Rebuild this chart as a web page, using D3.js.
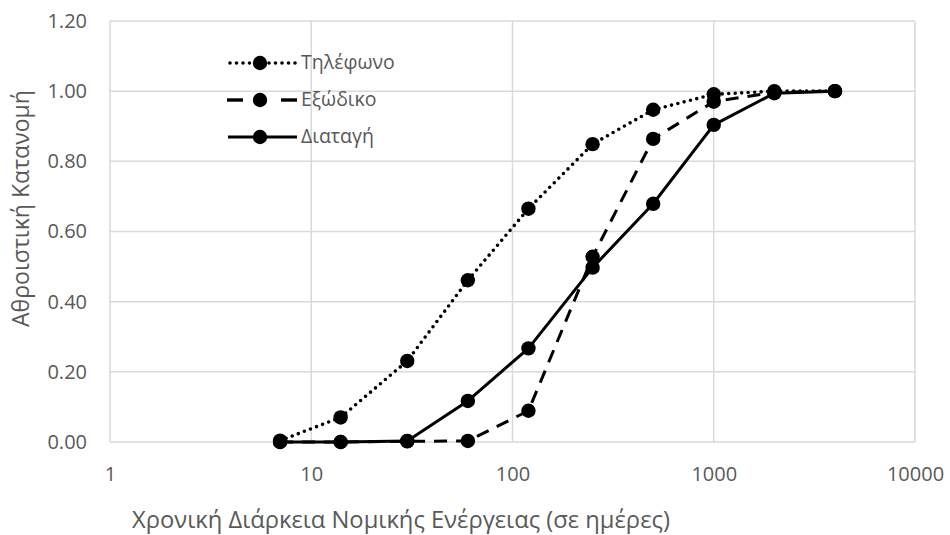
<!DOCTYPE html>
<html>
<head>
<meta charset="utf-8">
<script src="https://cdn.jsdelivr.net/npm/d3@7"></script>
<style>
  html, body { margin: 0; padding: 0; background: #fff; }
  svg { display: block; font-family: "Open Sans", "Noto Sans", sans-serif; }
</style>
</head>
<body>
<svg id="chart" width="950" height="535"></svg>
<script>
// ---- data ----
const days = [7, 14, 30, 60, 120, 250, 500, 1000, 2000, 4000];
const telephone = [0.004, 0.070, 0.231, 0.461, 0.665, 0.849, 0.947, 0.991, 1.000, 1.000];
const exodiko   = [0.000, 0.000, 0.002, 0.003, 0.089, 0.528, 0.864, 0.970, 0.997, 1.000];
const diatagi   = [0.000, 0.000, 0.003, 0.117, 0.267, 0.497, 0.679, 0.904, 0.994, 1.000];
const seriesNames = ["Τηλέφωνο", "Εξώδικο", "Διαταγή"];
const xTicks = [1, 10, 100, 1000, 10000];
const yTicks = [0, 0.2, 0.4, 0.6, 0.8, 1.0, 1.2];
const xTitle = "Χρονική Διάρκεια Νομικής Ενέργειας (σε ημέρες)";
const yTitle = "Αθροιστική Κατανομή";

// ---- layout ----
const svg = d3.select("#chart");
const L = 110, R = 915, T = 21, B = 442;
const x = d3.scaleLog().domain([1, 10000]).range([L, R]);
const y = d3.scaleLinear().domain([0, 1.2]).range([B, T]);
const textColor = "#595959";
const gridColor = "#d9d9d9";
const fontSize = 20;

// grid
const grid = svg.append("g");
grid.selectAll("line.h").data(yTicks).join("line")
  .attr("x1", L).attr("x2", R)
  .attr("y1", d => y(d)).attr("y2", d => y(d))
  .attr("stroke", gridColor).attr("stroke-width", 1.5);
grid.selectAll("line.v").data(xTicks).join("line")
  .attr("y1", T).attr("y2", B)
  .attr("x1", d => x(d)).attr("x2", d => x(d))
  .attr("stroke", gridColor).attr("stroke-width", 1.5);

// axes (labels only)
const yAxis = d3.axisLeft(y).tickValues(yTicks).tickFormat(d3.format(".2f")).tickSize(0).tickPadding(23);
const gy = svg.append("g").attr("transform", `translate(${L},0)`).call(yAxis);
gy.select(".domain").remove();
gy.selectAll("text").attr("fill", textColor).style("font-size", fontSize + "px")
  .style("font-family", "'Open Sans', sans-serif");

const xAxis = d3.axisBottom(x).tickValues(xTicks).tickFormat(d3.format("d")).tickSize(0).tickPadding(25);
const gx = svg.append("g").attr("transform", `translate(0,${B})`).call(xAxis);
gx.select(".domain").remove();
gx.selectAll("text").attr("fill", textColor).style("font-size", fontSize + "px")
  .style("font-family", "'Open Sans', sans-serif");

// axis titles, sized to the widths they span in the reference
function fitText(sel, target, base) {
  sel.style("font-size", base + "px");
  const w = sel.node().getComputedTextLength();
  if (w > 0) sel.style("font-size", (base * target / w).toFixed(2) + "px");
}
const xt = svg.append("text")
  .attr("x", 401).attr("y", 528)
  .attr("text-anchor", "middle")
  .attr("fill", textColor)
  .text(xTitle);
fitText(xt, 538, 22);
const yt = svg.append("text")
  .attr("transform", "translate(28.5,208.5) rotate(-90)")
  .attr("text-anchor", "middle")
  .attr("fill", textColor)
  .text(yTitle);
fitText(yt, 237, 20);

// series
const styles = [
  { dash: "0 6.5", cap: "round", width: 3.6 },
  { dash: "13 9", cap: "butt", width: 3 },
  { dash: null, cap: "butt", width: 3 }
];
const allSeries = [telephone, exodiko, diatagi];
const line = d3.line().x(d => x(d[0])).y(d => y(d[1]));

allSeries.forEach((vals, i) => {
  const pts = days.map((d, j) => [d, vals[j]]);
  const g = svg.append("g");
  g.append("path").datum(pts)
    .attr("d", line)
    .attr("fill", "none")
    .attr("stroke", "#000")
    .attr("stroke-width", styles[i].width)
    .attr("stroke-linecap", styles[i].cap)
    .attr("stroke-linejoin", "round")
    .attr("stroke-dasharray", styles[i].dash);
  g.selectAll("circle").data(pts).join("circle")
    .attr("cx", d => x(d[0])).attr("cy", d => y(d[1]))
    .attr("r", 7.2).attr("fill", "#000");
});

// legend
const legY = [63, 100, 137];
const lg = svg.append("g");
seriesNames.forEach((name, i) => {
  const yy = legY[i];
  const segs = i === 1 ? [[227, 243], [281, 297]] : [[228, 297]];
  segs.forEach(s => {
    lg.append("line")
      .attr("x1", s[0]).attr("x2", s[1]).attr("y1", yy).attr("y2", yy)
      .attr("stroke", "#000")
      .attr("stroke-width", i === 1 ? 3.4 : styles[i].width)
      .attr("stroke-linecap", styles[i].cap)
      .attr("stroke-dasharray", i === 1 ? null : styles[i].dash)
      .attr("stroke-dashoffset", i === 0 ? -2 : 0);
  });
  lg.append("circle").attr("cx", 260).attr("cy", yy).attr("r", 7.2).attr("fill", "#000");
  lg.append("text")
    .attr("x", 301).attr("y", yy)
    .attr("dy", "0.33em")
    .attr("fill", textColor).style("font-size", "19.5px")
    .text(name);
});
</script>
</body>
</html>
